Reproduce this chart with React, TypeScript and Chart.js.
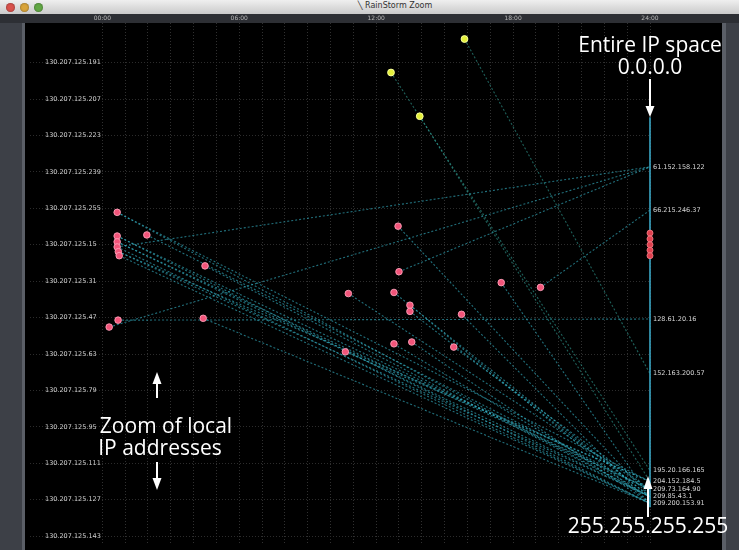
import React, { useEffect, useRef } from 'react';
import { Chart, registerables } from 'chart.js';

Chart.register(...registerables);

// ---- data ----
const timeTickHours = [0, 1, 2, 3, 4, 5, 6, 7, 8, 9, 10, 11, 12, 13, 14, 15, 16, 17, 18, 19, 20, 21, 22, 23, 24];
const timeLabelHours = [0, 6, 12, 18, 24];
const timeLabels = ['00:00', '06:00', '12:00', '18:00', '24:00'];

const localLabels = [
  '130.207.125.191', '130.207.125.207', '130.207.125.223', '130.207.125.239',
  '130.207.125.255', '130.207.125.15', '130.207.125.31', '130.207.125.47',
  '130.207.125.63', '130.207.125.79', '130.207.125.95', '130.207.125.111',
  '130.207.125.127', '130.207.125.143',
];

const remoteLabels = [
  '61.152.158.122', '66.215.246.37', '128.61.20.16', '152.163.200.57',
  '195.20.166.165', '204.152.184.5', '209.73.164.90', '209.85.43.1', '209.200.153.91',
];
const remoteRows = [2.86, 4.05, 7.04, 8.54, 11.2, 11.5, 11.72, 11.92, 12.1];

const localHours = [0.65, 0.65, 0.65, 0.65, 0.7, 0.74, 0.3, 0.69, 1.95, 4.5, 4.42,
  12.96, 13.0, 10.78, 12.78, 13.48, 13.48, 15.74, 17.48, 19.2, 12.78, 13.56, 15.4, 10.65];
const localRows = [4.11, 4.76, 4.92, 5.06, 5.19, 5.3, 7.26, 7.07, 4.73, 5.58, 7.02,
  4.49, 5.74, 6.34, 6.31, 6.66, 6.83, 6.91, 6.04, 6.17, 7.72, 7.67, 7.81, 7.94];

const scannerHours = [15.87, 12.65, 13.91];
const scannerRows = [-0.65, 0.27, 1.47];

const ipSpaceHour = 24;
const ipSpaceRows = [1.5, 12.21];
const remoteClusterRows = [4.68, 4.84, 5.0, 5.15, 5.3];

// [local index, remote index]
const localLinks = [
  [6, 0], [12, 0], [3, 0], [19, 1], [7, 2],
  [0, 5], [1, 6], [2, 7], [3, 8], [4, 7], [5, 8], [0, 7], [2, 6], [4, 5], [1, 8],
  [8, 6], [9, 7], [10, 8], [11, 7], [13, 6], [14, 7], [15, 8], [16, 7], [17, 8],
  [18, 7], [20, 7], [21, 8], [22, 6], [23, 5],
];
// [scanner index, remote index]
const scannerLinks = [[0, 3], [1, 4], [2, 5]];

const Y_MIN = -1.09;
const Y_MAX = 13.245;

const noPad = (s: any) => {
  s.paddingTop = 0;
  s.paddingBottom = 0;
  s.paddingLeft = 0;
  s.paddingRight = 0;
};

export default function App() {
  const ref = useRef<HTMLCanvasElement>(null);

  useEffect(() => {
    document.body.style.margin = '0';
    const canvas = ref.current;
    if (!canvas) return;

    const bgPlugin = {
      id: 'blackBg',
      beforeDraw(chart: any) {
        const { ctx, chartArea, width, height } = chart;
        ctx.save();
        ctx.fillStyle = '#000000';
        ctx.fillRect(0, chartArea.top, width, height - chartArea.top);
        ctx.restore();
      },
    };

    const linkStyle = {
      type: 'line' as const,
      showLine: true,
      borderColor: 'rgba(55,185,205,0.6)',
      borderWidth: 1.1,
      borderDash: [2, 2],
      pointRadius: 0,
      clip: false as any,
      order: 5,
    };

    const datasets: any[] = [];

    datasets.push({
      type: 'scatter',
      data: localHours.map((h, i) => ({ x: h, y: localRows[i] })),
      backgroundColor: '#f2557a',
      borderColor: 'rgba(255,160,185,0.9)',
      borderWidth: 1,
      pointRadius: 3.3,
      clip: false,
      order: 0,
    });
    datasets.push({
      type: 'scatter',
      data: scannerHours.map((h, i) => ({ x: h, y: scannerRows[i] })),
      backgroundColor: '#e4f03a',
      borderColor: '#f8ff9c',
      borderWidth: 1,
      pointRadius: 3.4,
      clip: false,
      order: 0,
    });
    datasets.push({
      type: 'scatter',
      data: remoteClusterRows.map((r) => ({ x: ipSpaceHour, y: r })),
      backgroundColor: '#e0404e',
      borderColor: 'rgba(240,120,130,0.9)',
      borderWidth: 1,
      pointRadius: 3,
      clip: false,
      order: 0,
    });
    datasets.push({
      type: 'line',
      showLine: true,
      data: ipSpaceRows.map((r) => ({ x: ipSpaceHour, y: r })),
      borderColor: '#3aa6c4',
      borderWidth: 1.6,
      pointRadius: 0,
      clip: false,
      order: 3,
    });
    localLinks.forEach(([li, ri]) => {
      datasets.push({
        ...linkStyle,
        data: [
          { x: localHours[li], y: localRows[li] },
          { x: ipSpaceHour, y: remoteRows[ri] },
        ],
      });
    });
    scannerLinks.forEach(([si, ri]) => {
      datasets.push({
        ...linkStyle,
        borderColor: 'rgba(50,160,150,0.6)',
        data: [
          { x: scannerHours[si], y: scannerRows[si] },
          { x: ipSpaceHour, y: remoteRows[ri] },
        ],
      });
    });

    const chart = new Chart(canvas, {
      type: 'scatter',
      data: { datasets },
      plugins: [bgPlugin],
      options: {
        animation: false,
        responsive: true,
        maintainAspectRatio: false,
        events: [],
        layout: { padding: 0 },
        plugins: { legend: { display: false }, tooltip: { enabled: false } },
        scales: {
          x: {
            type: 'linear',
            position: 'top',
            min: -3.17,
            max: 24,
            afterBuildTicks: (s: any) => {
              s.ticks = timeTickHours.map((v) => ({ value: v }));
            },
            afterFit: (s: any) => {
              s.height = 9;
              noPad(s);
            },
            ticks: {
              autoSkip: false,
              maxRotation: 0,
              padding: 1,
              color: '#b9b9b9',
              font: { size: 6, family: 'DejaVu Sans' },
              callback: (v: any) => {
                const k = timeLabelHours.indexOf(v);
                return k >= 0 ? timeLabels[k] : '';
              },
            },
            grid: {
              drawTicks: false,
              color: (c: any) => (c.tick && c.tick.value >= 0 ? '#303030' : 'rgba(0,0,0,0)'),
            },
            border: { display: false, dash: [1, 2] },
          },
          y: {
            type: 'linear',
            position: 'left',
            reverse: true,
            min: Y_MIN,
            max: Y_MAX,
            afterBuildTicks: (s: any) => {
              s.ticks = localLabels.map((_, i) => ({ value: i }));
            },
            afterFit: (s: any) => {
              s.width = 0;
              noPad(s);
            },
            ticks: {
              autoSkip: false,
              mirror: true,
              padding: 15,
              color: '#cfcfcf',
              font: { size: 6.5, family: 'DejaVu Sans' },
              callback: (v: any) => localLabels[Math.round(v)] ?? '',
            },
            grid: { drawTicks: false, color: '#2c2c2c' },
            border: { display: false, dash: [1, 2] },
          },
          y2: {
            type: 'linear',
            position: 'right',
            reverse: true,
            min: Y_MIN,
            max: Y_MAX,
            afterBuildTicks: (s: any) => {
              s.ticks = remoteRows.map((v) => ({ value: v }));
            },
            afterFit: (s: any) => {
              s.width = 72;
              noPad(s);
            },
            ticks: {
              autoSkip: false,
              padding: 3,
              color: '#d6d6d6',
              font: { size: 6.5, family: 'DejaVu Sans' },
              callback: (_v: any, i: number) => remoteLabels[i] ?? '',
            },
            grid: { display: false, drawTicks: false },
            border: { display: false },
          },
        },
      } as any,
    });
    return () => chart.destroy();
  }, []);

  const ann: React.CSSProperties = {
    position: 'absolute',
    color: '#ffffff',
    fontFamily: '"Open Sans", "DejaVu Sans", sans-serif',
    fontSize: 21,
    lineHeight: '22px',
    whiteSpace: 'nowrap',
    textAlign: 'center',
    width: 200,
  };

  const light = (left: number, color: string) => (
    <div
      style={{
        position: 'absolute', left, top: 3, width: 9, height: 9, borderRadius: '50%',
        background: color, boxShadow: 'inset 0 0 2px rgba(0,0,0,0.5)',
      }}
    />
  );

  return (
    <div style={{ position: 'fixed', left: 0, top: 0, width: 739, height: 550, background: '#3d4047', overflow: 'hidden' }}>
      <div style={{ position: 'absolute', left: 0, top: 0, width: 739, height: 14, background: 'linear-gradient(#efefef, #cacaca)' }} />
      {light(6, '#d9524c')}
      {light(20, '#d9a43a')}
      {light(34, '#62a845')}
      <div style={{ position: 'absolute', left: 295, top: 1, width: 200, textAlign: 'center', fontFamily: 'DejaVu Sans', fontSize: 8, color: '#333' }}>
        ╲ RainStorm Zoom
      </div>
      <div style={{ position: 'absolute', left: 0, top: 14, width: 739, height: 9, background: '#2d2f34' }} />
      <div style={{ position: 'absolute', left: 22, top: 23, width: 3, height: 527, background: '#5b5f67' }} />
      <div style={{ position: 'absolute', left: 722, top: 23, width: 4, height: 527, background: '#5b5f67' }} />
      <div style={{ position: 'absolute', left: 25, top: 14, width: 697, height: 536 }}>
        <canvas ref={ref} />
      </div>
      <div style={{ ...ann, left: 550, top: 33 }}>Entire IP space</div>
      <div style={{ ...ann, left: 550, top: 55 }}>0.0.0.0</div>
      <div style={{ ...ann, left: 66, top: 414 }}>Zoom of local</div>
      <div style={{ ...ann, left: 60, top: 436 }}>IP addresses</div>
      <div style={{ ...ann, left: 548, top: 514 }}>255.255.255.255</div>
      <svg width={739} height={550} style={{ position: 'absolute', left: 0, top: 0, pointerEvents: 'none' }}>
        <g stroke="#fff" strokeWidth={2} fill="#fff">
          <line x1={650} y1={79} x2={650} y2={108} />
          <polygon points="645.5,106 654.5,106 650,117" stroke="none" />
          <line x1={157} y1={398} x2={157} y2={382} />
          <polygon points="152.5,384 161.5,384 157,372" stroke="none" />
          <line x1={157} y1={462} x2={157} y2={480} />
          <polygon points="152.5,478 161.5,478 157,490" stroke="none" />
          <line x1={648} y1={517} x2={648} y2={487} />
          <polygon points="643.5,489 652.5,489 648,476" stroke="none" />
        </g>
      </svg>
    </div>
  );
}
